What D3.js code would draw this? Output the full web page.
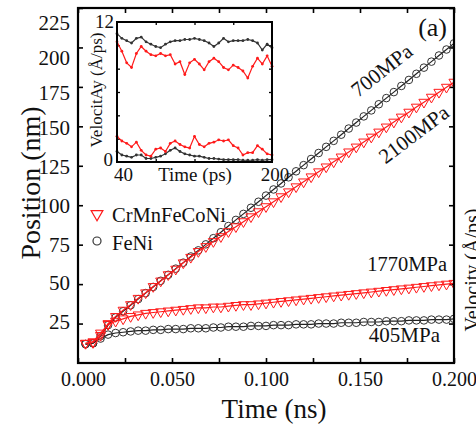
<!DOCTYPE html>
<html>
<head>
<meta charset="utf-8">
<script src="https://cdn.jsdelivr.net/npm/d3@7"></script>
<style>
  html, body { margin: 0; padding: 0; background: #fff; }
  svg { display: block; }
  text { font-family: "Liberation Serif", "Times New Roman", serif; fill: #111; }
</style>
</head>
<body>
<div id="chart"></div>
<script>
/* Position vs time, with velocity inset */

// main panel: time (ns) and position (nm)
const timeNs = [0.004, 0.008, 0.012, 0.016, 0.020, 0.024, 0.028, 0.032, 0.036, 0.040,
  0.044, 0.048, 0.052, 0.056, 0.060, 0.064, 0.068, 0.072, 0.076, 0.080,
  0.084, 0.088, 0.092, 0.096, 0.100, 0.104, 0.108, 0.112, 0.116, 0.120,
  0.124, 0.128, 0.132, 0.136, 0.140, 0.144, 0.148, 0.152, 0.156, 0.160,
  0.164, 0.168, 0.172, 0.176, 0.180, 0.184, 0.188, 0.192, 0.196, 0.200];

const feni700 = [12, 12.5, 17, 24, 28.9, 32.8, 36.6, 40.5, 44.3, 48.2,
  52.1, 55.9, 59.8, 63.6, 67.5, 71.4, 75.2, 79.1, 82.9, 86.8,
  90.7, 94.5, 98.4, 102.2, 106.1, 110.0, 113.8, 117.7, 121.5, 125.4,
  129.3, 133.1, 137.0, 140.8, 144.7, 148.6, 152.4, 156.3, 160.1, 164.0,
  167.9, 171.7, 175.6, 179.4, 183.3, 187.2, 191.0, 194.9, 198.7, 202.6];

const hea2100 = [12.5, 13, 17.5, 25, 29.5, 33.5, 37, 41, 44.5, 48.5,
  52, 56, 59.5, 63.5, 67, 70.7, 73.8, 77.0, 80.1, 83.3,
  86.4, 89.6, 92.7, 95.9, 99.1, 102.2, 105.4, 108.5, 111.7, 114.8,
  118.0, 121.2, 124.3, 127.5, 130.6, 133.8, 136.9, 140.1, 143.2, 146.4,
  149.6, 152.7, 155.9, 159.0, 162.2, 165.3, 168.5, 171.6, 174.8, 178.0];

const hea1770 = [12.5, 13.5, 19, 24.5, 26.5, 28, 29.5, 30.5, 31.5, 32,
  32.5, 33, 33.5, 34, 34.5, 35, 35, 35.5, 35.5, 36,
  36.5, 37, 37, 37.5, 38, 38.5, 39, 39.5, 40, 40.5,
  41, 41.5, 42, 42.5, 43, 43.5, 44, 44.5, 45, 45.5,
  46, 46.5, 47, 47.5, 48, 48.5, 49, 49.5, 50, 50.5];

const feni405 = [12, 12.5, 15.5, 18, 19, 19.5, 20, 20.5, 20.5, 21,
  21, 21.5, 21.5, 21.5, 22, 22, 22, 22.5, 22.5, 23,
  23, 23, 23.5, 23.5, 23.5, 24, 24, 24, 24.5, 24.5,
  24.5, 25, 25, 25, 25.5, 25.5, 25.5, 26, 26, 26,
  26.5, 26.5, 26.5, 27, 27, 27, 27.5, 27.5, 27.5, 28];

const xTicks = [0, 0.025, 0.05, 0.075, 0.1, 0.125, 0.15, 0.175, 0.2];
const xTickLabels = [0, 0.05, 0.1, 0.15, 0.2];
const yTicks = [25, 50, 75, 100, 125, 150, 175, 200, 225];

// inset: time (ps) and velocity (A/ps)
const insetTime = [40, 45, 50, 55, 60, 65, 70, 75, 80, 85, 90, 95, 100, 105, 110, 115,
  120, 125, 130, 135, 140, 145, 150, 155, 160, 165, 170, 175, 180, 185, 190, 195, 200];
const vel700 = [11.0, 10.6, 10.4, 10.2, 10.6, 10.7, 10.3, 10.1, 9.9, 9.8, 10.1, 10.3, 10.4, 10.4, 10.5, 10.5,
  10.6, 10.5, 10.4, 10.2, 9.9, 10.2, 10.6, 10.3, 10.4, 10.4, 10.4, 10.5, 10.4, 10.2, 9.6, 10.1, 9.8];
const vel2100 = [10.3, 9.5, 8.5, 8.1, 9.3, 9.9, 9.5, 9.2, 9.1, 9.3, 9.1, 9.2, 8.4, 8.6, 7.5, 8.5,
  8.8, 8.4, 7.9, 8.6, 8.9, 8.6, 8.1, 7.9, 8.3, 8.1, 7.8, 7.2, 8.2, 8.9, 8.4, 9.1, 8.2];
const vel1770 = [2.2, 1.8, 1.6, 1.3, 1.7, 1.0, 0.6, 0.5, 1.1, 1.2, 0.9, 1.6, 1.8, 1.5, 1.3, 1.2,
  2.2, 1.5, 1.3, 1.6, 1.7, 1.9, 1.8, 1.9, 1.4, 1.2, 0.6, 0.8, 0.8, 1.4, 1.1, 0.7, 0.6];
const vel405 = [0.9, 0.6, 0.5, 0.4, 0.6, 0.6, 0.3, 0.3, 0.4, 0.5, 0.7, 1.0, 1.2, 0.9, 0.7, 0.6,
  0.5, 0.5, 0.4, 0.3, 0.3, 0.25, 0.2, 0.2, 0.2, 0.2, 0.15, 0.15, 0.15, 0.2, 0.15, 0.2, 0.2];

const RED = "#ff1a1a";
const DARK = "#222";

const W = 476, H = 427;
const margin = { top: 8, right: 22, bottom: 64, left: 78 };

const svg = d3.select("#chart").append("svg")
  .attr("width", W)
  .attr("height", H);

const x = d3.scaleLinear().domain([0, 0.2]).range([margin.left, W - margin.right]);
const y = d3.scaleLinear().domain([0, 225]).range([H - margin.bottom, margin.top]);
// tick labels in the figure sit a little off the tick marks near the top
const yLab = d3.scaleLinear().domain([25, 150, 225]).range([322, 128, 23]);

svg.append("defs").append("clipPath").attr("id", "clip")
  .append("rect")
  .attr("x", margin.left).attr("y", margin.top)
  .attr("width", x(0.2) - x(0)).attr("height", y(0) - y(225));

// tick marks (inward) on all four sides
const tickLen = 5;
svg.append("g")
  .attr("transform", `translate(0, ${y(0)})`)
  .call(d3.axisTop(x).tickValues(xTicks).tickSize(tickLen).tickFormat(""))
  .call(g => g.select(".domain").remove());
svg.append("g")
  .attr("transform", `translate(0, ${y(225)})`)
  .call(d3.axisBottom(x).tickValues(xTicks).tickSize(tickLen).tickFormat(""))
  .call(g => g.select(".domain").remove());
svg.append("g")
  .attr("transform", `translate(${x(0)}, 0)`)
  .call(d3.axisRight(y).tickValues(yTicks).tickSize(tickLen).tickFormat(""))
  .call(g => g.select(".domain").remove());
svg.append("g")
  .attr("transform", `translate(${x(0.2)}, 0)`)
  .call(d3.axisLeft(y).tickValues(yTicks).tickSize(tickLen).tickFormat(""))
  .call(g => g.select(".domain").remove());
svg.selectAll(".tick line").attr("stroke", "#000").attr("stroke-width", 1.6);

// tick labels
svg.append("g")
  .attr("transform", `translate(0, ${y(0)})`)
  .call(d3.axisBottom(x).tickValues(xTickLabels).tickSize(0).tickPadding(9).tickFormat(d3.format(".3f")))
  .call(g => g.select(".domain").remove())
  .call(g => g.selectAll("text").attr("font-size", 20).attr("fill", "#111")
    .attr("font-family", "Liberation Serif, serif"))
  .call(g => g.selectAll("text").filter(d => d === 0).attr("dx", 5));

svg.append("g")
  .attr("transform", `translate(${x(0) - 8}, 0)`)
  .call(d3.axisLeft(yLab).tickValues(yTicks).tickSize(0).tickPadding(0))
  .call(g => g.select(".domain").remove())
  .call(g => g.selectAll("text").attr("font-size", 21).attr("fill", "#111")
    .attr("font-family", "Liberation Serif, serif"));

// axis titles
svg.append("text")
  .attr("x", 274)
  .attr("y", 418)
  .attr("text-anchor", "middle")
  .attr("font-size", 27)
  .text("Time (ns)");

svg.append("text")
  .attr("transform", `translate(40, 183) rotate(-90)`)
  .attr("text-anchor", "middle")
  .attr("font-size", 28)
  .text("Position (nm)");

// series
const plot = svg.append("g").attr("clip-path", "url(#clip)");

const series = [
  { values: feni700, color: DARK, shape: "circle" },
  { values: feni405, color: DARK, shape: "circle" },
  { values: hea1770, color: RED, shape: "tri" },
  { values: hea2100, color: RED, shape: "tri" }
];

const line = d3.line()
  .x((d, i) => x(timeNs[i]))
  .y(d => y(d));

const triPath = d3.symbol().type(d3.symbolTriangle).size(44)();

series.forEach(s => {
  plot.append("path")
    .datum(s.values)
    .attr("fill", "none")
    .attr("stroke", s.color)
    .attr("stroke-width", 1.2)
    .attr("d", line);

  const g = plot.append("g");
  if (s.shape === "circle") {
    g.selectAll("circle")
      .data(s.values)
      .join("circle")
      .attr("cx", (d, i) => x(timeNs[i]))
      .attr("cy", d => y(d))
      .attr("r", 3.8)
      .attr("fill", "none")
      .attr("stroke", "#333")
      .attr("stroke-width", 1);
  } else {
    g.selectAll("path")
      .data(s.values)
      .join("path")
      .attr("d", triPath)
      .attr("transform", (d, i) => `translate(${x(timeNs[i])}, ${y(d)}) rotate(180)`)
      .attr("fill", "none")
      .attr("stroke", RED)
      .attr("stroke-width", 1);
  }
});

// frame
svg.append("rect")
  .attr("x", x(0)).attr("y", y(225))
  .attr("width", x(0.2) - x(0)).attr("height", y(0) - y(225))
  .attr("fill", "none")
  .attr("stroke", "#000")
  .attr("stroke-width", 2.2);

// annotations
svg.append("text")
  .attr("x", 447).attr("y", 36)
  .attr("text-anchor", "end")
  .attr("font-size", 26)
  .text("(a)");

svg.append("text")
  .attr("transform", "translate(386, 76) rotate(-38)")
  .attr("text-anchor", "middle")
  .attr("font-size", 21)
  .text("700MPa");

svg.append("text")
  .attr("transform", "translate(418, 140) rotate(-37)")
  .attr("text-anchor", "middle")
  .attr("font-size", 21)
  .text("2100MPa");

svg.append("text")
  .attr("x", 447).attr("y", 271)
  .attr("text-anchor", "end")
  .attr("font-size", 20.5)
  .text("1770MPa");

svg.append("text")
  .attr("x", 440).attr("y", 342)
  .attr("text-anchor", "end")
  .attr("font-size", 21)
  .text("405MPa");

// legend
const legend = svg.append("g");
legend.append("path")
  .attr("d", d3.symbol().type(d3.symbolTriangle).size(60)())
  .attr("transform", "translate(97, 214) rotate(180)")
  .attr("fill", "none").attr("stroke", RED).attr("stroke-width", 1.2);
legend.append("text")
  .attr("x", 112).attr("y", 222)
  .attr("font-size", 20.5)
  .text("CrMnFeCoNi");
legend.append("circle")
  .attr("cx", 97).attr("cy", 241).attr("r", 4)
  .attr("fill", "none").attr("stroke", "#333").attr("stroke-width", 1.2);
legend.append("text")
  .attr("x", 112).attr("y", 250)
  .attr("font-size", 20.5)
  .text("FeNi");

// inset
const ix = d3.scaleLinear().domain([40, 200]).range([117, 272]);
const iy = d3.scaleLinear().domain([0, 12]).range([162, 22]);

const inset = svg.append("g");
inset.append("rect")
  .attr("x", ix(40)).attr("y", iy(12))
  .attr("width", ix(200) - ix(40)).attr("height", iy(0) - iy(12))
  .attr("fill", "#fff");

const iTicksY = [2, 4, 6, 8, 10];
const iTicksX = [80, 120, 160];
inset.append("g").attr("transform", `translate(${ix(40)},0)`)
  .call(d3.axisRight(iy).tickValues(iTicksY).tickSize(3).tickFormat(""))
  .call(g => g.select(".domain").remove());
inset.append("g").attr("transform", `translate(${ix(200)},0)`)
  .call(d3.axisLeft(iy).tickValues(iTicksY).tickSize(3).tickFormat(""))
  .call(g => g.select(".domain").remove());
inset.append("g").attr("transform", `translate(0,${iy(0)})`)
  .call(d3.axisTop(ix).tickValues(iTicksX).tickSize(3).tickFormat(""))
  .call(g => g.select(".domain").remove());
inset.append("g").attr("transform", `translate(0,${iy(12)})`)
  .call(d3.axisBottom(ix).tickValues(iTicksX).tickSize(3).tickFormat(""))
  .call(g => g.select(".domain").remove());
inset.selectAll(".tick line").attr("stroke", "#000").attr("stroke-width", 1.3);

const iline = d3.line()
  .x((d, i) => ix(insetTime[i]))
  .y(d => iy(d));

const insetSeries = [
  { values: vel700, color: "#333" },
  { values: vel405, color: "#333" },
  { values: vel2100, color: RED },
  { values: vel1770, color: RED }
];

insetSeries.forEach(s => {
  inset.append("path")
    .datum(s.values)
    .attr("fill", "none")
    .attr("stroke", s.color)
    .attr("stroke-width", 1.2)
    .attr("d", iline);
  inset.append("g").selectAll("circle")
    .data(s.values)
    .join("circle")
    .attr("cx", (d, i) => ix(insetTime[i]))
    .attr("cy", d => iy(d))
    .attr("r", 1.4)
    .attr("fill", s.color);
});

inset.append("rect")
  .attr("x", ix(40)).attr("y", iy(12))
  .attr("width", ix(200) - ix(40)).attr("height", iy(0) - iy(12))
  .attr("fill", "none")
  .attr("stroke", "#000")
  .attr("stroke-width", 2);

inset.append("text").attr("x", ix(40) - 3).attr("y", iy(12) + 6)
  .attr("text-anchor", "end").attr("font-size", 19).text("12");
inset.append("text").attr("x", ix(40) - 4).attr("y", iy(0) + 4)
  .attr("text-anchor", "end").attr("font-size", 19).text("0");
inset.append("text").attr("x", ix(40) - 3).attr("y", iy(0) + 19)
  .attr("text-anchor", "start").attr("font-size", 19).text("40");
inset.append("text").attr("x", ix(200) + 3).attr("y", iy(0) + 19)
  .attr("text-anchor", "middle").attr("font-size", 19).text("200");
inset.append("text").attr("x", 195).attr("y", iy(0) + 19)
  .attr("text-anchor", "middle").attr("font-size", 19).text("Time (ps)");
inset.append("text")
  .attr("transform", `translate(102, 90) rotate(-90)`)
  .attr("text-anchor", "middle")
  .attr("font-size", 17)
  .text("VelocitAy (Å/ps)");

// edge of the neighbouring panel
svg.append("text")
  .attr("transform", "translate(479, 270) rotate(-90)")
  .attr("text-anchor", "middle")
  .attr("font-size", 20)
  .attr("fill", "#555")
  .text("Velocity (Å/ps)");
</script>
</body>
</html>
